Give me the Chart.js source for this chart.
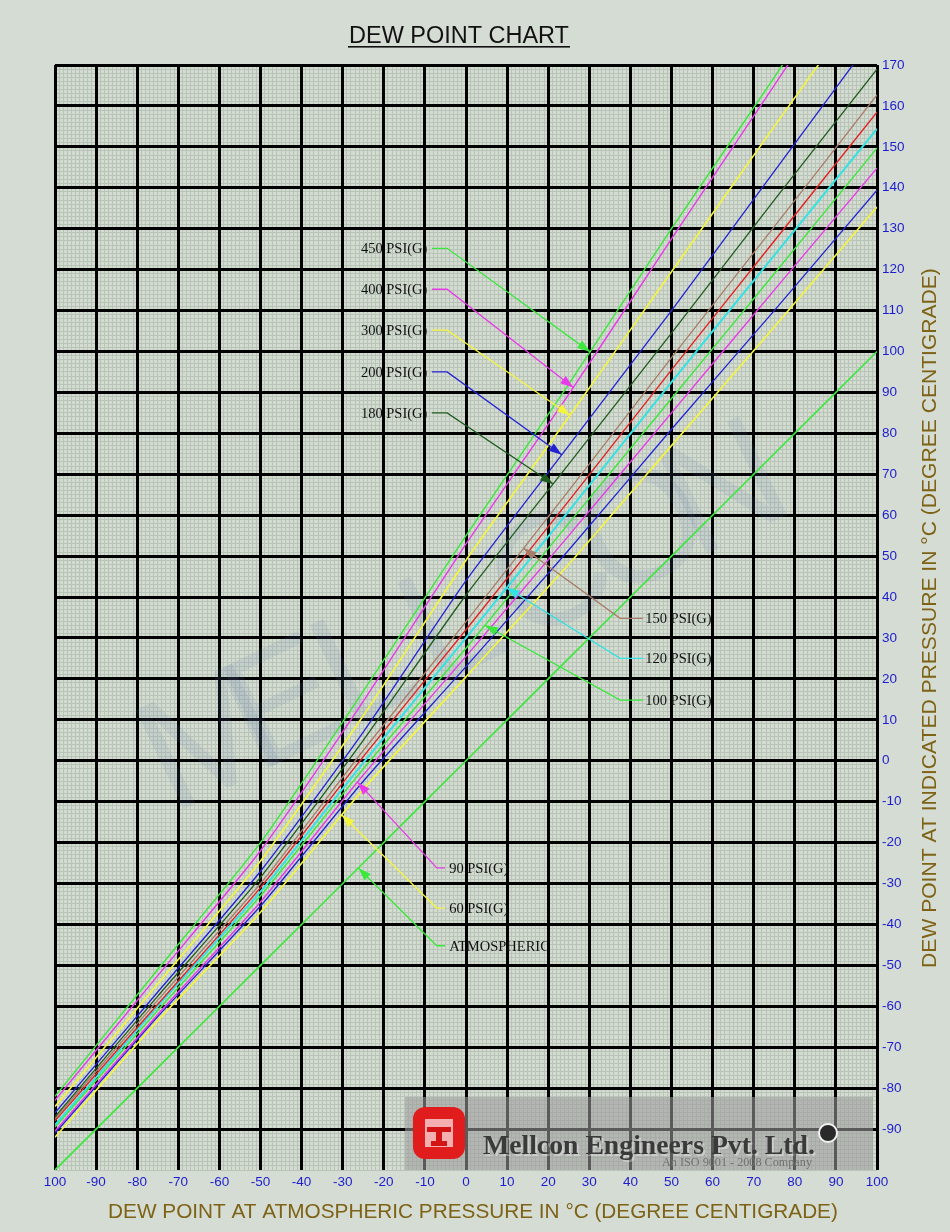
<!DOCTYPE html>
<html>
<head>
<meta charset="utf-8">
<title>Dew Point Chart</title>
<script src="https://cdn.jsdelivr.net/npm/chart.js@4.4.0/dist/chart.umd.min.js"></script>
<style>
  html, body { margin: 0; padding: 0; background: #d5dcd3; }
  canvas { display: block; }
</style>
</head>
<body>
<canvas id="dewChart" width="950" height="1232"></canvas>
<script>
// ==================== DATA ====================
// Dew point at atmospheric pressure (x axis), deg C
const atmDewPoint = [-100, -75, -50, -25, 0, 25, 50, 75, 100];

// Dew point at indicated pressure (y axis), deg C, read at each x above
const psi450 = [-82, -51, -20, 17, 55, 92, 130, 167, 205];
const psi400 = [-83, -52.5, -22, 14.5, 53, 89.5, 127.5, 165, 203];
const psi300 = [-84.5, -54.5, -24.5, 11, 49, 84, 119.5, 155, 190];
const psi200 = [-86, -56.5, -27, 7, 44, 77, 110, 144, 178];
const psi180 = [-87, -57.5, -28.5, 5, 40.5, 72.5, 104.5, 137, 169];
const psi150 = [-87.5, -58.5, -30, 2.5, 34, 66, 98.5, 130.5, 162.7];
const psiRed = [-88, -59.5, -31, 1, 32, 63.5, 95.5, 127, 158.5];
const psi120 = [-89, -60, -32, -0.5, 30, 61, 92.5, 123.5, 154.4];
const psi100 = [-89.5, -61, -33, -2, 27.5, 58, 88.5, 119, 149.7];
const psi90 = [-90.5, -62, -34.5, -3.5, 25.5, 55, 85, 115, 144.8];
const psiBlue = [-91, -62.5, -35.5, -5, 23, 51.5, 81, 110, 139.4];
const psi60 = [-92, -63.5, -37, -7, 20.5, 48, 77, 106, 135.3];
const atmospheric = [-100, -75, -50, -25, 0, 25, 50, 75, 100];

const seriesNames = ['450 PSI(G)', '400 PSI(G)', '300 PSI(G)', '200 PSI(G)', '180 PSI(G)',
    '150 PSI(G)', 'red', '120 PSI(G)', '100 PSI(G)', '90 PSI(G)', 'blue', '60 PSI(G)', 'ATMOSPHERIC'];
const seriesValues = [psi450, psi400, psi300, psi200, psi180, psi150, psiRed,
    psi120, psi100, psi90, psiBlue, psi60, atmospheric];

// Axis tick labels (the left corner label is printed without its minus sign)
const xTickLabels = ['100', '-90', '-80', '-70', '-60', '-50', '-40', '-30', '-20', '-10',
    '0', '10', '20', '30', '40', '50', '60', '70', '80', '90', '100'];
const yTickLabels = ['-90', '-80', '-70', '-60', '-50', '-40', '-30', '-20', '-10', '0', '10', '20',
    '30', '40', '50', '60', '70', '80', '90', '100', '110', '120', '130', '140', '150', '160', '170'];

// ==================== STYLE ====================
const seriesColors = ['#3be83b', '#e83ae8', '#f4f43c', '#2222d4', '#1f5c1f',
    '#a87c68', '#e02424', '#33e2e2', '#3be83b', '#e83ae8', '#2222d4', '#f4f43c', '#3be83b'];
const seriesWidths = [1.4, 1.4, 1.6, 1.3, 1.3, 1.3, 1.4, 2, 1.4, 1.4, 1.3, 1.6, 1.6];

// callout groups: where the horizontal stub and the text sit (x in data units)
const calloutGroups = {
    upper: { segEndX: -8.3, kneeX: -4.6, textX: -9.4, align: 'right' },
    right: { segEndX: 43.1, kneeX: 37.5, textX: 43.6, align: 'left' },
    lower: { segEndX: -5.1, kneeX: -7.1, textX: -4.1, align: 'left' }
};
const callouts = [
    { series: 0, group: 'upper', textY: 125.2, tipX: 30.2 },
    { series: 1, group: 'upper', textY: 115.2, tipX: 26.1 },
    { series: 2, group: 'upper', textY: 105.2, tipX: 25.3 },
    { series: 3, group: 'upper', textY: 95.0, tipX: 23.3 },
    { series: 4, group: 'upper', textY: 85.0, tipX: 21.2 },
    { series: 5, group: 'right', textY: 34.8, tipX: 14.0 },
    { series: 7, group: 'right', textY: 25.0, tipX: 9.9 },
    { series: 8, group: 'right', textY: 14.8, tipX: 4.6 },
    { series: 9, group: 'lower', textY: -26.2, tipX: -26.4 },
    { series: 11, group: 'lower', textY: -36.0, tipX: -30.2 },
    { series: 12, group: 'lower', textY: -45.2, tipX: -26.2 }
];

// linear read of a series at a given x
function seriesYAt(values, x) {
    for (let i = 0; i < atmDewPoint.length - 1; i++) {
        const x0 = atmDewPoint[i], x1 = atmDewPoint[i + 1];
        if (x >= x0 && x <= x1) {
            return values[i] + (x - x0) / (x1 - x0) * (values[i + 1] - values[i]);
        }
    }
    return null;
}

function fitFont(ctx, text, weight, family, width) {
    ctx.font = weight + ' 20px ' + family;
    const size = 20 * width / ctx.measureText(text).width;
    ctx.font = weight + ' ' + size.toFixed(2) + 'px ' + family;
    return size;
}

// ==================== PLUGINS ====================
const backdropPlugin = {
    id: 'backdrop',
    beforeDraw(chart) {
        const { ctx, chartArea: a } = chart;
        ctx.save();
        ctx.fillStyle = '#d5dcd3';
        ctx.fillRect(0, 0, chart.width, chart.height);
        ctx.fillStyle = '#d4dcd2';
        ctx.fillRect(a.left, a.top, a.right - a.left, a.bottom - a.top);
        ctx.restore();
    },
    beforeDatasetsDraw(chart) {
        // faint MELLCON watermark across the grid
        const { ctx } = chart;
        ctx.save();
        ctx.translate(172, 815);
        ctx.rotate(-26 * Math.PI / 180);
        ctx.font = '160px "Liberation Sans"';
        ctx.fillStyle = 'rgba(100, 125, 170, 0.13)';
        ctx.textBaseline = 'alphabetic';
        'MELLCON'.split('').forEach((ch, i) => ctx.fillText(ch, i * 97, 0));
        ctx.restore();
    },
    afterDatasetsDraw(chart) {
        const { ctx, chartArea: a } = chart;
        const xs = chart.scales.x, ys = chart.scales.y;

        // callouts with leader lines and arrow heads
        ctx.save();
        callouts.forEach(c => {
            const g = calloutGroups[c.group];
            const color = seriesColors[c.series];
            const tipPx = xs.getPixelForValue(c.tipX);
            const tipPy = ys.getPixelForValue(seriesYAt(seriesValues[c.series], c.tipX));
            const ty = ys.getPixelForValue(c.textY);
            const kx = xs.getPixelForValue(g.kneeX);
            const ex = xs.getPixelForValue(g.segEndX);
            ctx.strokeStyle = color;
            ctx.lineWidth = 1.3;
            ctx.beginPath();
            ctx.moveTo(ex, ty);
            ctx.lineTo(kx, ty);
            ctx.lineTo(tipPx, tipPy);
            ctx.stroke();
            const ang = Math.atan2(tipPy - ty, tipPx - kx);
            const len = 13, hw = 4.5;
            const bx = tipPx - len * Math.cos(ang), by = tipPy - len * Math.sin(ang);
            ctx.fillStyle = color;
            ctx.beginPath();
            ctx.moveTo(tipPx, tipPy);
            ctx.lineTo(bx + hw * Math.sin(ang), by - hw * Math.cos(ang));
            ctx.lineTo(bx - hw * Math.sin(ang), by + hw * Math.cos(ang));
            ctx.closePath();
            ctx.fill();
            ctx.fillStyle = '#111';
            ctx.font = '14.5px "Liberation Serif"';
            ctx.textAlign = g.align;
            ctx.textBaseline = 'middle';
            ctx.fillText(seriesNames[c.series], xs.getPixelForValue(g.textX), ty + 1);
        });
        ctx.restore();

        // company banner in the bottom right corner
        ctx.save();
        const bx0 = a.right - 472, by0 = a.bottom - 73;
        ctx.fillStyle = 'rgba(155, 155, 155, 0.58)';
        ctx.fillRect(bx0, by0, 468, 73);
        // red logo
        ctx.fillStyle = '#e01c1c';
        ctx.beginPath();
        ctx.roundRect(bx0 + 8, by0 + 10, 52, 52, 12);
        ctx.fill();
        ctx.fillStyle = '#f4b0b0';
        ctx.fillRect(bx0 + 20, by0 + 22, 28, 28);
        ctx.fillStyle = '#d41414';
        ctx.fillRect(bx0 + 22, by0 + 30, 24, 5);
        ctx.fillRect(bx0 + 31, by0 + 30, 6, 18);
        ctx.fillRect(bx0 + 26, by0 + 44, 16, 5);
        // name
        ctx.textAlign = 'left';
        ctx.textBaseline = 'alphabetic';
        fitFont(ctx, 'Mellcon Engineers Pvt. Ltd.', 'bold', '"Liberation Serif"', 332);
        ctx.fillStyle = 'rgba(255,255,255,0.35)';
        ctx.fillText('Mellcon Engineers Pvt. Ltd.', bx0 + 80, by0 + 59);
        ctx.fillStyle = '#3a3a3a';
        ctx.fillText('Mellcon Engineers Pvt. Ltd.', bx0 + 78, by0 + 57);
        fitFont(ctx, 'An ISO 9001 - 2008 Company', '', '"Liberation Serif"', 150);
        ctx.fillStyle = '#727272';
        ctx.fillText('An ISO 9001 - 2008 Company', bx0 + 257, by0 + 69);
        // round emblem
        ctx.beginPath();
        ctx.arc(bx0 + 423, by0 + 36, 9, 0, Math.PI * 2);
        ctx.fillStyle = '#2a2a2a';
        ctx.fill();
        ctx.lineWidth = 2;
        ctx.strokeStyle = '#f2f2f2';
        ctx.stroke();
        ctx.restore();
    },
    afterDraw(chart) {
        const { ctx } = chart;
        ctx.save();
        // title with underline
        ctx.fillStyle = '#111';
        ctx.textAlign = 'center';
        ctx.textBaseline = 'alphabetic';
        fitFont(ctx, 'DEW POINT CHART', '', '"Liberation Sans"', 220);
        ctx.fillText('DEW POINT CHART', 459, 43);
        ctx.fillRect(348, 46, 222, 1.6);

        // axis titles
        ctx.fillStyle = '#7e6216';
        ctx.textBaseline = 'middle';
        const xTitle = 'DEW POINT AT ATMOSPHERIC PRESSURE IN \u00B0C (DEGREE CENTIGRADE)';
        fitFont(ctx, xTitle, '', '"Liberation Sans"', 730);
        ctx.fillText(xTitle, 473, 1212);
        const yTitle = 'DEW POINT AT INDICATED PRESSURE IN \u00B0C (DEGREE CENTIGRADE)';
        ctx.translate(930, 618);
        ctx.rotate(-Math.PI / 2);
        fitFont(ctx, yTitle, '', '"Liberation Sans"', 700);
        ctx.fillText(yTitle, 0, 0);
        ctx.restore();
    }
};

// ==================== CHART ====================
const datasets = seriesValues.map((vals, i) => ({
    label: seriesNames[i],
    data: atmDewPoint.map((x, j) => ({ x: x, y: vals[j] })),
    borderColor: seriesColors[i],
    borderWidth: seriesWidths[i],
    showLine: true,
    pointRadius: 0,
    tension: 0.2,
    fill: false
}));

const tickFont = { family: '"Liberation Sans"', size: 13.5 };
// fine 1-degree mesh, drawn underneath the 10-degree grid
const minorGrid = { color: '#b9c4b8', lineWidth: 1, drawTicks: false, z: -2 };
const majorGrid = { color: '#000', lineWidth: 3, drawTicks: false, z: -1 };

new Chart(document.getElementById('dewChart'), {
    type: 'scatter',
    data: { datasets },
    plugins: [backdropPlugin],
    options: {
        responsive: false,
        animation: false,
        layout: { padding: { left: 55, top: 65, right: 0, bottom: 0 } },
        plugins: { legend: { display: false }, tooltip: { enabled: false } },
        scales: {
            x: {
                type: 'linear', min: -100, max: 100,
                grid: majorGrid,
                border: { display: false },
                afterFit: s => { s.height = 62; },
                ticks: {
                    stepSize: 10, autoSkip: false, maxRotation: 0, padding: 4,
                    color: '#1c1cd0', font: tickFont,
                    callback: v => xTickLabels[Math.round((v + 100) / 10)]
                }
            },
            xMinor: {
                type: 'linear', axis: 'x', position: 'bottom', min: -100, max: 100,
                grid: minorGrid,
                border: { display: false },
                afterFit: s => { s.height = 0; },
                ticks: { display: false, stepSize: 1, autoSkip: false, maxTicksLimit: 1000 }
            },
            y: {
                type: 'linear', position: 'right', min: -100, max: 170,
                grid: majorGrid,
                border: { display: false },
                afterFit: s => { s.width = 73; },
                ticks: {
                    stepSize: 10, autoSkip: false, padding: 5,
                    color: '#1c1cd0', font: tickFont,
                    callback: v => v > -100 ? yTickLabels[Math.round((v + 90) / 10)] : null
                }
            },
            yMinor: {
                type: 'linear', axis: 'y', position: 'right', min: -100, max: 170,
                grid: minorGrid,
                border: { display: false },
                afterFit: s => { s.width = 0; },
                ticks: { display: false, stepSize: 1, autoSkip: false, maxTicksLimit: 1000 }
            }
        }
    }
});
</script>
</body>
</html>
